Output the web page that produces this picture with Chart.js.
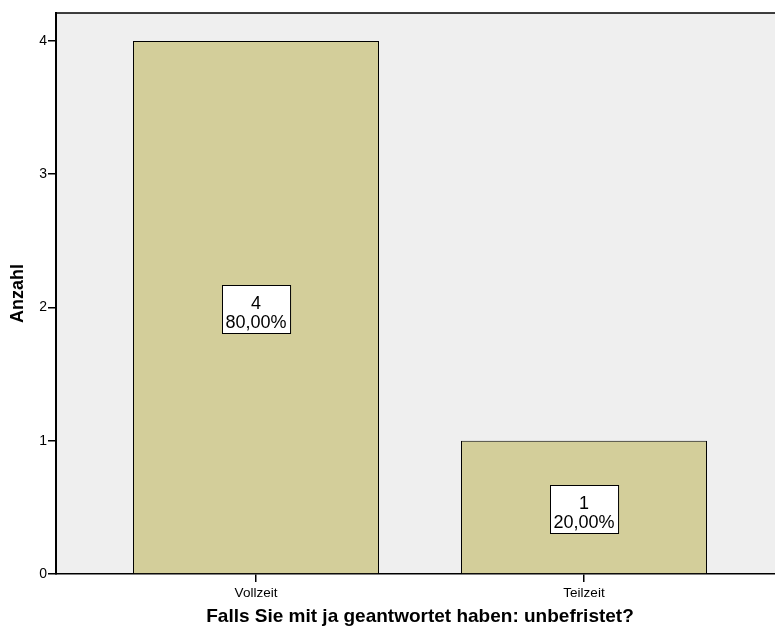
<!DOCTYPE html>
<html>
<head>
<meta charset="utf-8">
<title>Anzahl unbefristet</title>
<script src="https://cdn.jsdelivr.net/npm/chart.js@4/dist/chart.umd.min.js"></script>
<style>
  html, body { margin: 0; padding: 0; background: #ffffff; overflow: hidden; }
  #wrap { width: 784px; height: 632px; }
</style>
</head>
<body>
<div id="wrap"><canvas id="grafico"></canvas></div>
<script>
// Kategorien und Häufigkeiten
var kategorien = ["Vollzeit", "Teilzeit"];
var anzahl = [4, 1];
var yTicks = [0, 1, 2, 3, 4];

var schrift = "'Liberation Sans', Arial, sans-serif";
var balkenFarbe = "#d3ce9a";
var hintergrund = "#efefef";

var gesamt = anzahl.reduce(function (a, b) { return a + b; }, 0);

// Prozentwert im deutschen Format (Komma)
function prozent(wert) {
    return (wert / gesamt * 100).toFixed(2).replace(".", ",") + "%";
}

// Grauer Hintergrund und obere Rahmenlinie des Diagrammbereichs
var rahmenPlugin = {
    id: "rahmen",
    beforeDraw: function (chart) {
        var ctx = chart.ctx, a = chart.chartArea;
        ctx.save();
        ctx.fillStyle = hintergrund;
        ctx.fillRect(a.left, a.top, a.right - a.left, a.bottom - a.top);
        ctx.restore();
    },
    afterDraw: function (chart) {
        var ctx = chart.ctx, a = chart.chartArea;
        ctx.save();
        ctx.strokeStyle = "#000";
        ctx.lineWidth = 1.5;
        ctx.beginPath();
        ctx.moveTo(a.left - 1, a.top);
        ctx.lineTo(a.right, a.top);
        ctx.lineTo(a.right, a.bottom);
        ctx.stroke();
        ctx.restore();
    }
};

// Beschriftungskästchen mit Anzahl und Prozent in der Balkenmitte
var etikettPlugin = {
    id: "etiketten",
    afterDatasetsDraw: function (chart) {
        var ctx = chart.ctx;
        var meta = chart.getDatasetMeta(0);
        ctx.save();
        ctx.font = "18px " + schrift;
        meta.data.forEach(function (bar, i) {
            var zeile1 = String(anzahl[i]);
            var zeile2 = prozent(anzahl[i]);
            var breite = Math.max(ctx.measureText(zeile1).width, ctx.measureText(zeile2).width) + 7;
            var hoehe = 48;
            var mx = bar.x;
            var my = (bar.y + bar.base) / 2 + 2;
            var x0 = Math.round(mx - breite / 2) + 0.5;
            var y0 = Math.round(my - hoehe / 2) + 0.5;
            ctx.fillStyle = "#fff";
            ctx.fillRect(x0, y0, breite, hoehe);
            ctx.strokeStyle = "#000";
            ctx.lineWidth = 1;
            ctx.strokeRect(x0, y0, breite, hoehe);
            ctx.fillStyle = "#000";
            ctx.textAlign = "center";
            ctx.textBaseline = "alphabetic";
            ctx.fillText(zeile1, mx, y0 + 23);
            ctx.fillText(zeile2, mx, y0 + 42);
        });
        ctx.restore();
    }
};

var config = {
    type: "bar",
    data: {
        datasets: [{
            data: anzahl.map(function (v, i) { return { x: i, y: v }; }),
            backgroundColor: balkenFarbe,
            borderColor: "#000",
            borderWidth: 1,
            borderSkipped: "bottom",
            barPercentage: 0.75,
            categoryPercentage: 1
        }]
    },
    options: {
        responsive: true,
        maintainAspectRatio: false,
        animation: false,
        layout: { padding: { top: 13, right: 0, left: 0, bottom: 0 } },
        plugins: {
            legend: { display: false },
            tooltip: { enabled: false }
        },
        scales: {
            x: {
                type: "linear",
                offset: false,
                min: -0.6098,
                max: 1.6098,
                afterBuildTicks: function (scale) {
                    scale.ticks = kategorien.map(function (k, i) { return { value: i }; });
                },
                afterFit: function (scale) { scale.height = 58; },
                ticks: {
                    color: "#000",
                    font: { family: schrift, size: 13.5 },
                    padding: 3,
                    callback: function (v) { return kategorien[v]; }
                },
                grid: {
                    offset: false,
                    drawOnChartArea: false,
                    drawTicks: true,
                    tickLength: 8,
                    color: "#000",
                    lineWidth: 1.5
                },
                border: { display: true, color: "#000", width: 1.5 },
                title: {
                    display: true,
                    text: "Falls Sie mit ja geantwortet haben: unbefristet?",
                    color: "#000",
                    font: { family: schrift, size: 19, weight: "bold" },
                    padding: { top: 0, bottom: 3.5 }
                }
            },
            y: {
                min: 0,
                max: 4.21,
                afterBuildTicks: function (scale) {
                    scale.ticks = yTicks.map(function (v) { return { value: v }; });
                },
                afterFit: function (scale) { scale.width = 56; },
                ticks: {
                    color: "#000",
                    font: { family: schrift, size: 14 },
                    padding: 1
                },
                grid: {
                    drawOnChartArea: false,
                    drawTicks: true,
                    tickLength: 8,
                    color: "#000",
                    lineWidth: 1.5
                },
                border: { display: true, color: "#000", width: 2 },
                title: {
                    display: true,
                    text: "Anzahl",
                    color: "#000",
                    font: { family: schrift, size: 18, weight: "bold" },
                    padding: { top: 7.5, bottom: 0 }
                }
            }
        }
    },
    plugins: [rahmenPlugin, etikettPlugin]
};

new Chart(document.getElementById("grafico").getContext("2d"), config);
</script>
</body>
</html>
